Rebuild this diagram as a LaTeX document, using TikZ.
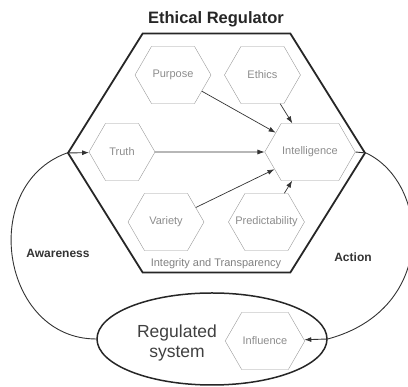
\documentclass[tikz,border=0pt]{standalone}
\usepackage{fontspec}
\setmainfont{Liberation Sans}
\usepackage{tikz}
\usetikzlibrary{positioning}
\usetikzlibrary{arrows.meta}
\usetikzlibrary{shapes.symbols}
\usetikzlibrary{shapes.geometric}

\tikzset{
  hexbox/.style={signal, signal to=east and west, signal pointer angle=120,
    draw=black!40, text=black!45, font=\fontsize{11}{13}\selectfont,
    minimum width=76pt, minimum height=57pt, inner sep=1pt},
  flow/.style={-{Latex[length=7pt,width=5pt]}, draw=black!80, line width=0.7pt},
  loop/.style={-{Latex[length=7pt,width=5pt]}, draw=black!80, line width=0.9pt},
}

\begin{document}
\begin{tikzpicture}[x=1pt,y=1pt]
    \useasboundingbox (0,0) rectangle (408,387);
    % outer shapes %
    \node[signal, signal to=east and west, signal pointer angle=116, draw=black!85,
      line width=1.8pt, minimum width=297pt, minimum height=239pt] (reg) at (216.5,234) {};
    \node[font=\bfseries\fontsize{16.5}{18}\selectfont, text=black!85] (title) at (216,368) {Ethical Regulator};
    \node[ellipse, draw=black!85, line width=1.5pt, minimum width=230pt, minimum height=92pt] (ell) at (212,48) {};
    \node[align=center, font=\fontsize{17.5}{20}\selectfont, text=black!75] (sys) at (177,44) {Regulated\\system};
    % inner nodes %
    \node[hexbox] (intel) at (310,235) {Intelligence};
    \node[hexbox] (purpose) at (173,312) {Purpose};
    \node[hexbox, right=13 of purpose] (ethics) {Ethics};
    \node[hexbox, minimum width=66pt] (truth) at (122,235) {Truth};
    \node[hexbox] (variety) at (166,165) {Variety};
    \node[hexbox, right=24 of variety] (predict) {\makebox[40pt]{Predictability}};
    \node[hexbox] (influence) at (265,46) {Influence};
    \node[text=black!50, font=\fontsize{11}{13}\selectfont] (integ) at (216,123) {Integrity and Transparency};
    \node[font=\bfseries\fontsize{12}{14}\selectfont, text=black!80] (aware) at (58,134) {Awareness};
    \node[font=\bfseries\fontsize{12}{14}\selectfont, text=black!80] (act) at (353,130) {Action};
    % edges %
    \draw[flow] (purpose) -- (intel);
    \draw[flow] (ethics) -- (intel);
    \draw[flow] (truth) -- (intel);
    \draw[flow] (variety) -- (intel);
    \draw[flow] (predict) -- (intel);
    \draw[loop] (ell.west) to[out=180, in=200, out distance=95pt, in distance=95pt] (reg.west) -- (truth);
    \draw[loop] (intel.east) -- (reg.east) to[out=-25, in=15, out distance=70pt, in distance=115pt] (ell.east) -- (influence);
  \end{tikzpicture}
\end{document}
